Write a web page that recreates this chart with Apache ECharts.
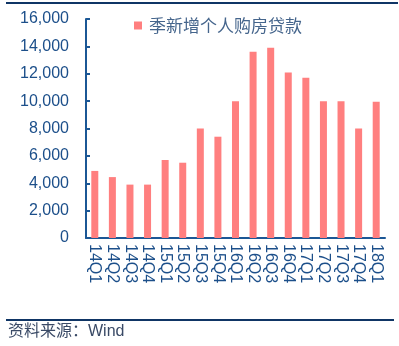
<!DOCTYPE html>
<html>
<head>
<meta charset="utf-8">
<script src="https://cdn.jsdelivr.net/npm/echarts@6/dist/echarts.min.js"></script>
<style>
  html, body { margin: 0; padding: 0; background: #fff; }
  #chart { width: 399px; height: 346px; }
</style>
</head>
<body>
<div id="chart"></div>
<script>
// Quarterly new personal housing loans
const quarters = ['14Q1','14Q2','14Q3','14Q4','15Q1','15Q2','15Q3','15Q4','16Q1','16Q2','16Q3','16Q4','17Q1','17Q2','17Q3','17Q4','18Q1'];
const newLoans = [4900, 4450, 3900, 3900, 5700, 5500, 8000, 7400, 10000, 13600, 13900, 12100, 11700, 10000, 10000, 8000, 9950];
const seriesName = '季新增个人购房贷款';
const sourceText = '资料来源：Wind';

const axisColor = '#1b5795';
const labelColor = '#1c4f8a';
const font = '"Liberation Sans", Arial, sans-serif';
const mixedFont = '"Liberation Sans", "Noto Sans CJK SC", sans-serif';

const chart = echarts.init(document.getElementById('chart'));
chart.setOption({
  animation: false,
  grid: { left: 86, right: 14, top: 19, bottom: 108, containLabel: false },
  legend: {
    left: 129, top: 12,
    itemWidth: 8, itemHeight: 8, itemGap: 5,
    icon: 'rect',
    textStyle: { color: '#45658c', fontSize: 17, fontFamily: '"Noto Sans CJK SC", sans-serif', padding: [0, 0, 0, 2] },
    data: [seriesName]
  },
  xAxis: {
    type: 'category',
    data: quarters,
    axisLine: { lineStyle: { color: axisColor, width: 2 } },
    axisTick: { alignWithLabel: false, length: 5, lineStyle: { color: axisColor, width: 2 } },
    axisLabel: { rotate: -90, interval: 0, color: labelColor, fontSize: 16, fontFamily: font, margin: 6 }
  },
  yAxis: {
    type: 'value',
    min: 0, max: 16000, interval: 2000,
    splitLine: { show: false },
    axisLine: { show: true, lineStyle: { color: axisColor, width: 2 } },
    axisTick: { show: true, inside: true, length: 4, lineStyle: { color: axisColor, width: 2 } },
    axisLabel: {
      color: labelColor, fontSize: 16, fontFamily: font, margin: 17,
      formatter: v => v.toLocaleString('en-US')
    }
  },
  series: [{
    name: seriesName,
    type: 'bar',
    data: newLoans,
    barWidth: 7,
    itemStyle: { color: '#ff7f7f' }
  }],
  graphic: [
    { type: 'line', shape: { x1: 6, y1: 3, x2: 398, y2: 3 }, style: { stroke: '#0f3565', lineWidth: 2 } },
    { type: 'line', shape: { x1: 6, y1: 320, x2: 394, y2: 320 }, style: { stroke: '#0f3565', lineWidth: 2 } },
    { type: 'text', left: 8, top: 324, style: { text: sourceText, fill: '#3a4a66', fontSize: 16, fontFamily: mixedFont } }
  ]
});
</script>
</body>
</html>
